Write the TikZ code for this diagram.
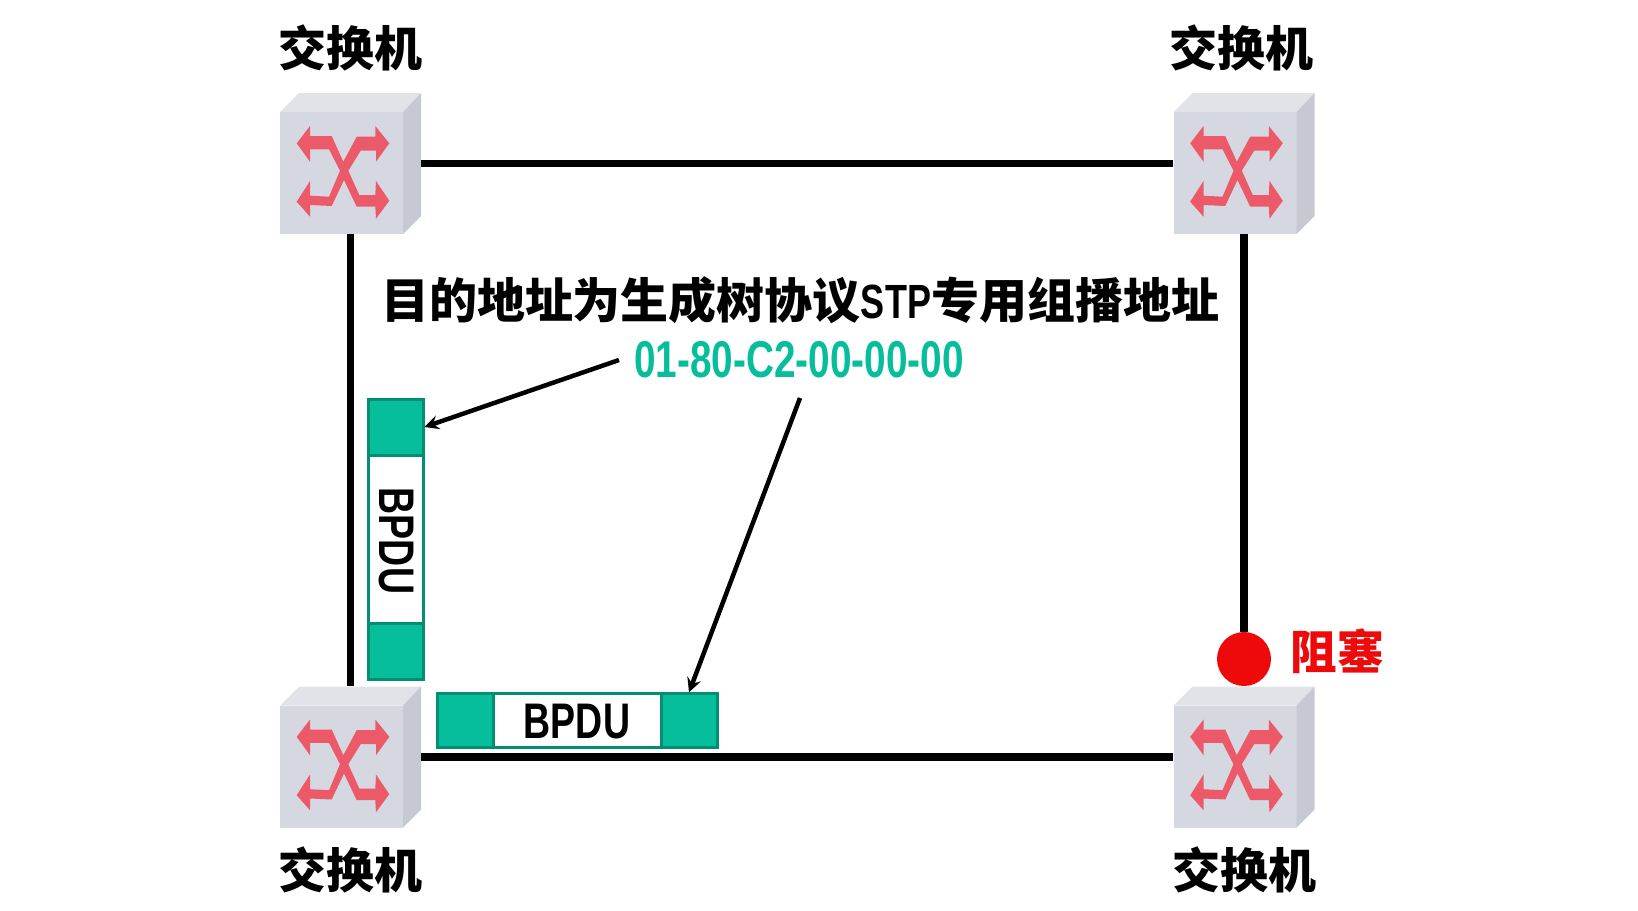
\documentclass[tikz,border=0pt]{standalone}
\usepackage{fontspec}
\usetikzlibrary{arrows,positioning}
\setmainfont{Liberation Sans}
\newfontfamily\cjkfont{Noto Sans CJK SC}
\newfontfamily\narrowfont[FakeStretch=0.75]{Liberation Sans}
\definecolor{frontgray}{HTML}{D5D8E0}
\definecolor{topgray}{HTML}{E2E3E8}
\definecolor{sidegray}{HTML}{C6C9D2}
\definecolor{iconred}{HTML}{EC5A69}
\definecolor{framegreen}{HTML}{06BE9C}
\definecolor{edgegreen}{HTML}{008F72}
\definecolor{blockred}{HTML}{EE0A0A}
\tikzset{
    switchicon/.pic={
        \fill[frontgray] (-70.5,-51.5) rectangle (52.5,70.5);
        \fill[topgray] (-70.5,-51.5) -- (-51.5,-70.5) -- (70.5,-70.5) -- (52.5,-51.5) -- cycle;
        \fill[sidegray] (52.5,-51.5) -- (70.5,-70.5) -- (70.5,52.5) -- (52.5,70.5) -- cycle;
        \fill[iconred] (-53.8,-20.2) -- (-40.5,-37.5) -- (-40.5,-27.5) -- (-18.8,-27.5) -- (-7.2,-1.8)
            -- (6.2,-26.8) -- (24.8,-26.8) -- (24.8,-37.5) -- (38.8,-20.2) -- (25.5,-1.8) -- (25.5,-12.8)
            -- (10.2,-12.8) -- (-2.2,7.2) -- (8.8,31.5) -- (24.8,31.5) -- (25.5,17.5) -- (38.8,37.2)
            -- (25.5,55.2) -- (24.8,43.2) -- (6.2,43.2) -- (-6.5,16.5) -- (-18.8,42.5) -- (-40.5,41.5)
            -- (-40.5,53.2) -- (-53.8,38.2) -- (-40.5,17.5) -- (-40.5,32.2) -- (-21.5,33.2) -- (-10.5,7.2)
            -- (-21.5,-14.2) -- (-40.5,-14.2) -- (-40.5,-1.8) -- cycle;
    }
}

\begin{document}
\begin{tikzpicture}[
    x=0.6pt, y=-0.6pt,
    switchbox/.style={rectangle, inner sep=0pt, minimum size=84.6pt},
    swlabel/.style={font=\cjkfont\bfseries\fontsize{28.8}{30}\selectfont},
    link/.style={line width=4.5pt},
    arrow/.style={line width=2.7pt,->,>=stealth},
    greencell/.style={rectangle, draw=edgegreen, fill=framegreen, line width=1.8pt, inner sep=0pt},
    whitecell/.style={rectangle, draw=edgegreen, fill=white, line width=1.8pt, inner sep=0pt},
    bpdutext/.style={font=\narrowfont\bfseries\fontsize{30}{30}\selectfont}
]
\useasboundingbox (0,0) rectangle (1638,910);

% Switches
\pic at (350.5,163.5) {switchicon};
\pic at (1244,163.5) {switchicon};
\pic at (350.5,757) {switchicon};
\pic at (1244,757) {switchicon};
\node[switchbox] (sw1) at (350.5,163.5) {};
\node[switchbox] (sw2) at (1244,163.5) {};
\node[switchbox] (sw3) at (350.5,757) {};
\node[switchbox] (sw4) at (1244,757) {};

% Switch labels
\node[swlabel] (lab1) at (350,48) {交换机};
\node[swlabel] (lab2) at (1241,48) {交换机};
\node[swlabel] (lab3) at (350,870) {交换机};
\node[swlabel] (lab4) at (1244,870) {交换机};

% Blocked port
\node[circle, fill=blockred, inner sep=0pt, minimum size=32.4pt] (block) at (1244,659) {};
\node[font=\cjkfont\bfseries\fontsize{28}{30}\selectfont, text=blockred] (blocktext) at (1337,651) {阻塞};

% Links
\draw[link] (sw1) -- (sw2);
\draw[link] (sw1) -- (sw3);
\draw[link] (sw3) -- (sw4);
\draw[link] (sw2) -- (block);

% Vertical frame
\node[greencell, minimum width=33pt, minimum height=33.6pt] (v1) at (395.5,427) {};
\node[whitecell, minimum width=33pt, minimum height=100.8pt] (v2) at (395.5,539) {};
\node[greencell, minimum width=33pt, minimum height=33.6pt] (v3) at (395.5,651) {};
\node[bpdutext, rotate=-90] (vtext) at (396,541) {BPDU};

% Horizontal frame
\node[greencell, minimum width=33.6pt, minimum height=32pt] (h1) at (465,720.5) {};
\node[whitecell, minimum width=100.8pt, minimum height=32pt] (h2) at (577,720.5) {};
\node[greencell, minimum width=33.6pt, minimum height=32pt] (h3) at (689,720.5) {};
\node[bpdutext] (htext) at (577,722) {BPDU};

% Address text
\node[font=\cjkfont\bfseries\fontsize{28.8}{30}\selectfont] (title) at (800,300) {目的地址为生成树协议{\narrowfont\bfseries STP}专用组播地址};
\node[font=\narrowfont\bfseries\fontsize{31}{32}\selectfont, text=framegreen] (addr) at (799,360) {01-80-C2-00-00-00};

% Arrows
\coordinate (addrleft) at (619,360);
\coordinate (addrlow) at (800,398);
\draw[arrow] (addrleft) -- (v1.east);
\draw[arrow] (addrlow) -- (h3.north);

\end{tikzpicture}
\end{document}
